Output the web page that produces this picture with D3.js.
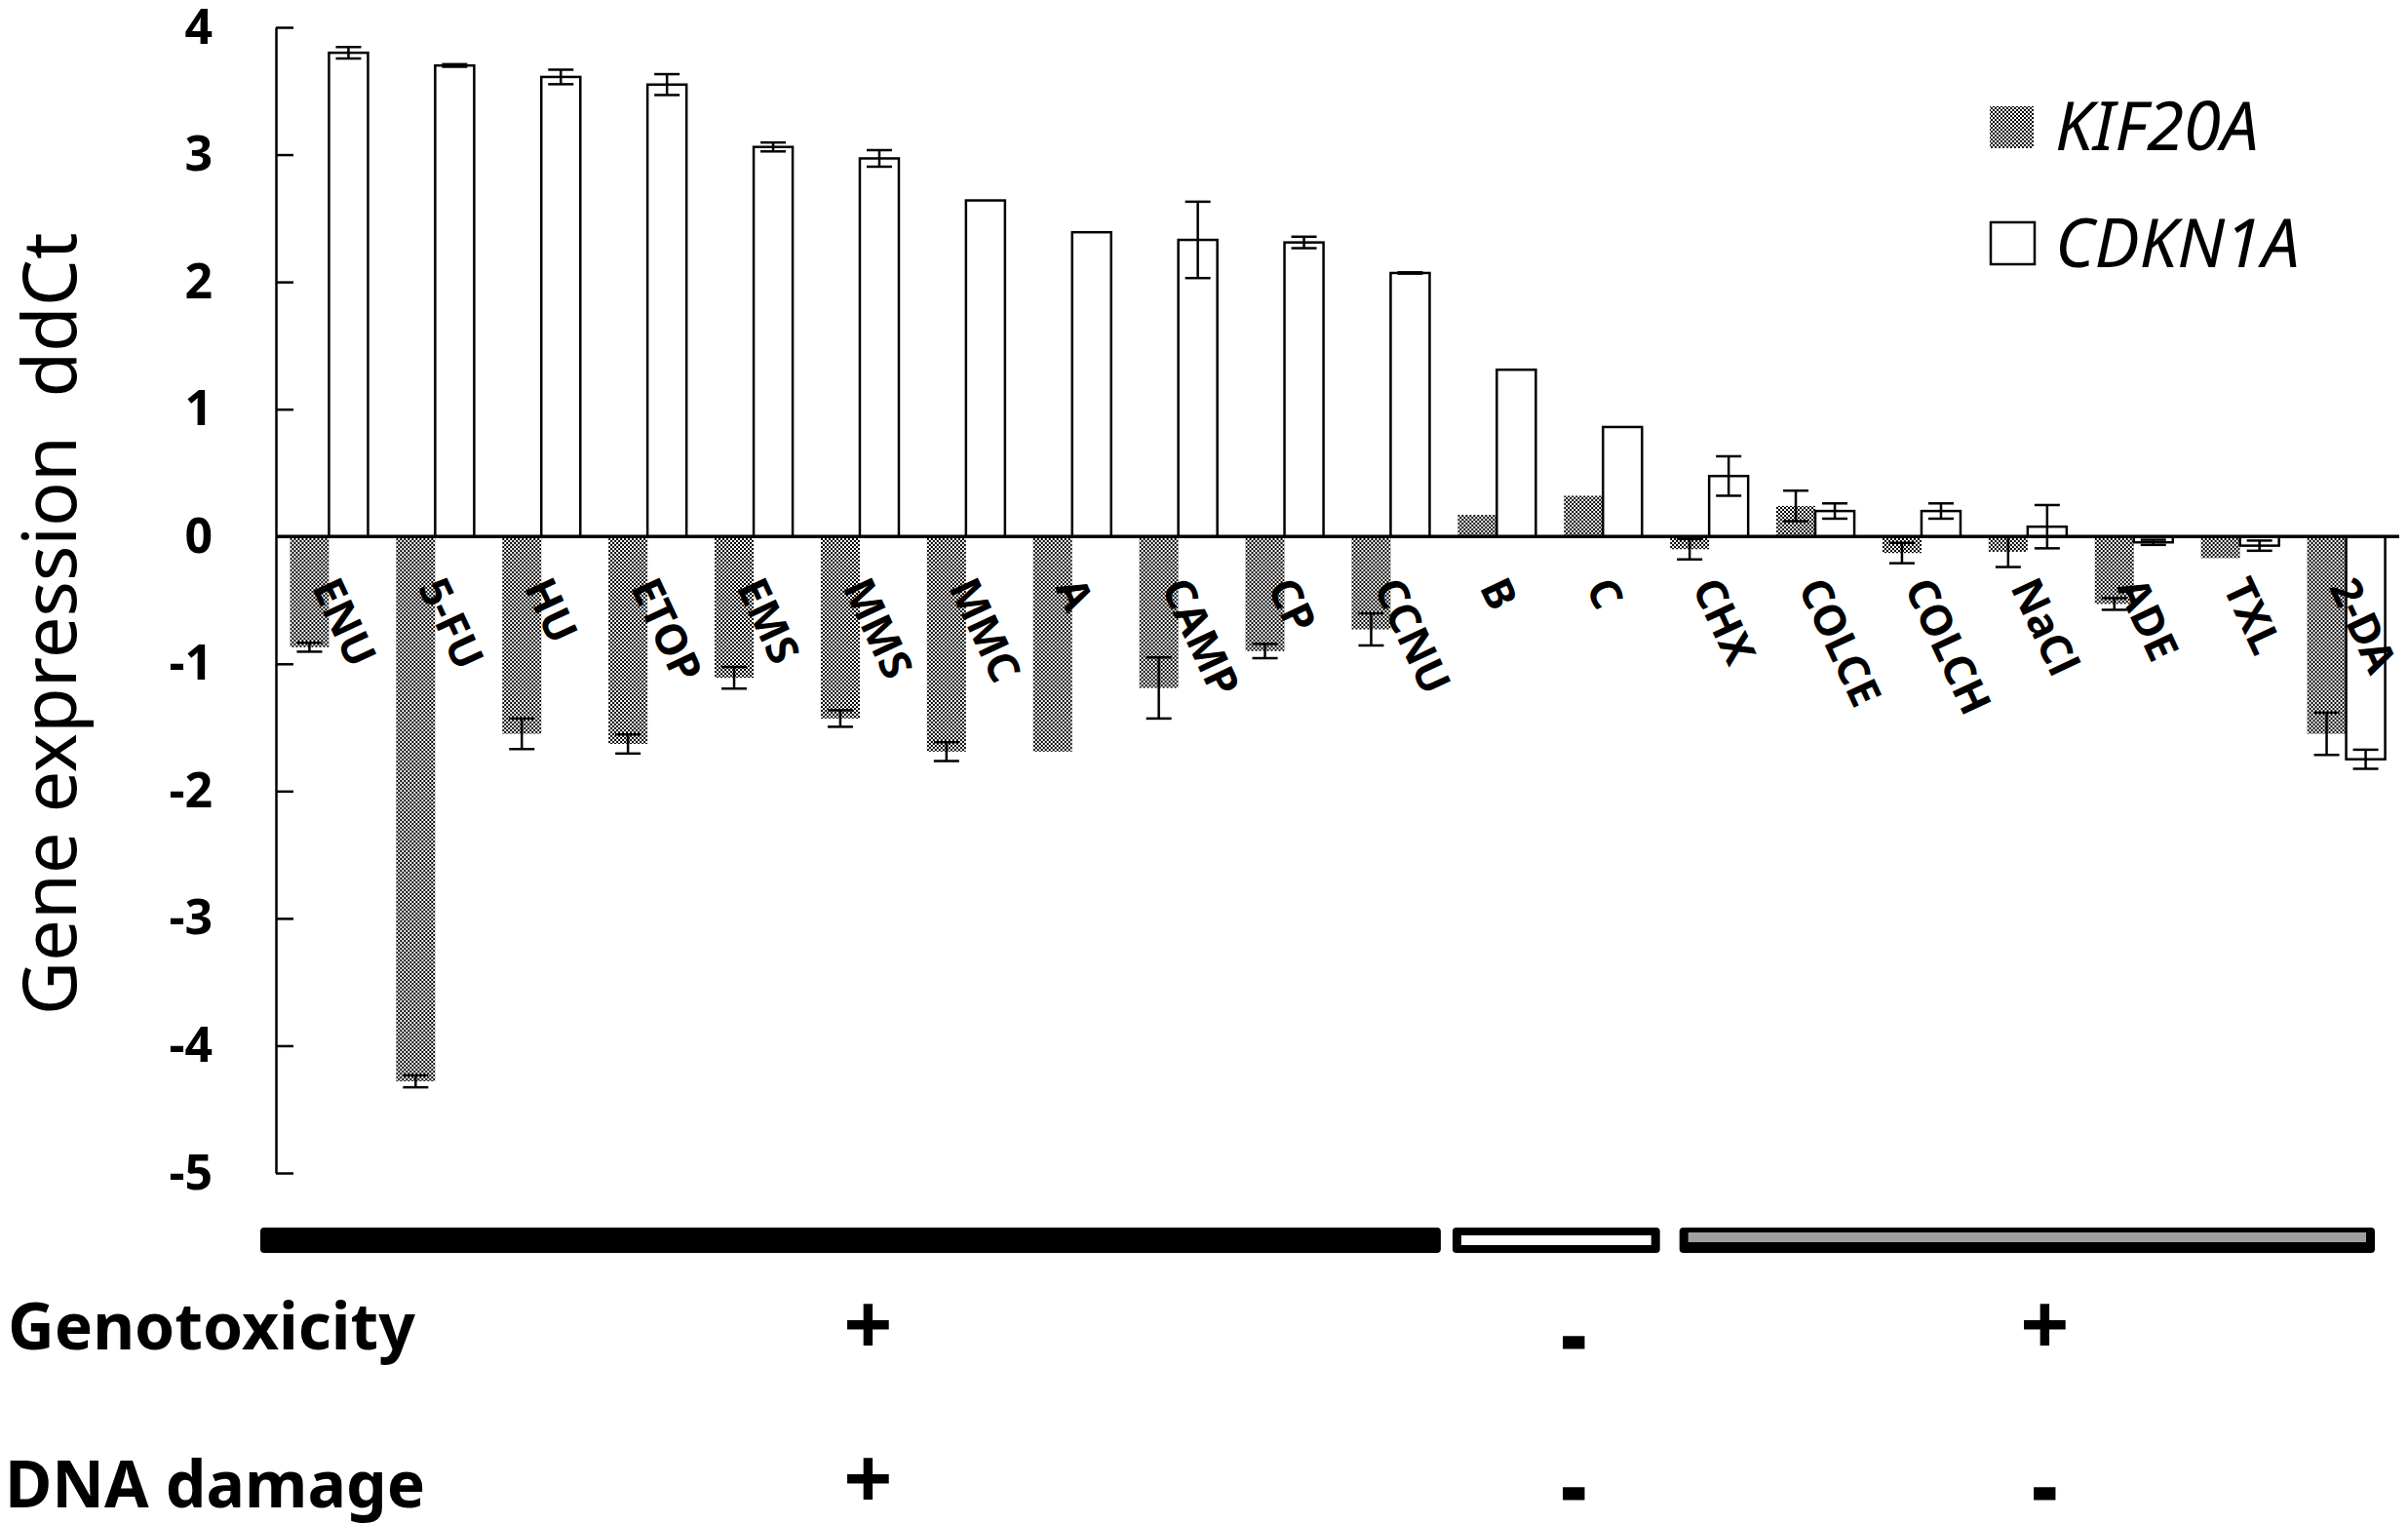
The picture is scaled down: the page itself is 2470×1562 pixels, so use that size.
<!DOCTYPE html>
<html>
<head>
<meta charset="utf-8">
<script src="https://cdn.jsdelivr.net/npm/d3@7"></script>
<style>
  body { margin: 0; background: #fff; }
  svg { display: block; }
</style>
</head>
<body>
<script>
// chart data
const categories = ["ENU", "5-FU", "HU", "ETOP", "EMS", "MMS", "MMC", "A", "CAMP", "CP", "CCNU",
                    "B", "C", "CHX", "COLCE", "COLCH", "NaCl", "ADE", "TXL", "2-DA"];
const seriesNames = ["KIF20A", "CDKN1A"];
const kif20a    = [-0.87, -4.28, -1.55, -1.63, -1.11, -1.43, -1.69, -1.69, -1.19, -0.90, -0.73,
                    0.17, 0.32, -0.10, 0.24, -0.13, -0.12, -0.53, -0.17, -1.55];
const kif20aErr = [0.035, 0.047, 0.12, 0.075, 0.085, 0.065, 0.074, 0, 0.24, 0.056, 0.126,
                   0, 0, 0.08, 0.12, 0.08, 0.12, 0.046, 0, 0.166];
const cdkn1a    = [3.80, 3.70, 3.61, 3.55, 3.06, 2.97, 2.64, 2.39, 2.33, 2.31, 2.07,
                   1.31, 0.86, 0.475, 0.20, 0.20, 0.077, -0.046, -0.072, -1.75];
const cdkn1aErr = [0.045, 0.01, 0.057, 0.082, 0.035, 0.065, 0, 0, 0.30, 0.045, 0.005,
                   0, 0, 0.155, 0.06, 0.06, 0.17, 0.02, 0.04, 0.075];
const yTicks = [-5, -4, -3, -2, -1, 0, 1, 2, 3, 4];

// the three treatment groups under the chart
const groupFirst = ["ENU", "B", "CHX"];
const groupLast  = ["CCNU", "C", "2-DA"];
const genotoxicity = ["+", "-", "+"];
const dnaDamage    = ["+", "-", "-"];

const W = 2470, H = 1562;
const svg = d3.select("body").append("svg")
    .attr("width", W).attr("height", H)
    .style("font-family", "'Noto Sans', 'DejaVu Sans', sans-serif");

// dithered grey fill like the original
const defs = svg.append("defs");
const pat = defs.append("pattern")
    .attr("id", "dither").attr("patternUnits", "userSpaceOnUse")
    .attr("width", 4).attr("height", 4);
pat.append("rect").attr("width", 4).attr("height", 4).attr("fill", "#fff");
pat.append("rect").attr("width", 2).attr("height", 2).attr("fill", "#000");
pat.append("rect").attr("x", 2).attr("y", 2).attr("width", 2).attr("height", 2).attr("fill", "#000");

const plotLeft = 283, plotRight = 2461;

const x = d3.scaleBand()
    .domain(categories)
    .range([plotLeft, plotRight])
    .paddingInner(0.265)
    .paddingOuter(0.1325);

const xs = d3.scaleBand()
    .domain(seriesNames)
    .range([0, x.bandwidth()]);

const y = d3.scaleLinear()
    .domain([-5, 4])
    .range([1203, 28]);

const rows = categories.map((c, i) => ({
    cat: c,
    vals: [
        { s: "KIF20A", v: kif20a[i], e: kif20aErr[i] },
        { s: "CDKN1A", v: cdkn1a[i], e: cdkn1aErr[i] }
    ]
}));

// bars
const grp = svg.append("g").selectAll("g").data(rows).enter()
    .append("g")
    .attr("transform", d => "translate(" + x(d.cat) + ",0)");

grp.selectAll("rect").data(d => d.vals).enter()
    .append("rect")
    .attr("x", d => xs(d.s))
    .attr("width", xs.bandwidth())
    .attr("y", d => y(Math.max(0, d.v)))
    .attr("height", d => Math.abs(y(d.v) - y(0)))
    .attr("fill", d => d.s == "KIF20A" ? "url(#dither)" : "#fff")
    .attr("stroke", d => d.s == "KIF20A" ? "none" : "#000")
    .attr("stroke-width", 2.5);

// error bars
const capW = 13;
const errs = grp.selectAll("g.err").data(d => d.vals.filter(v => v.e > 0)).enter()
    .append("g").attr("class", "err")
    .attr("stroke", "#000").attr("stroke-width", 2.5);
errs.append("line")
    .attr("x1", d => xs(d.s) + xs.bandwidth() / 2)
    .attr("x2", d => xs(d.s) + xs.bandwidth() / 2)
    .attr("y1", d => y(d.v + d.e))
    .attr("y2", d => y(d.v - d.e));
errs.append("line")
    .attr("x1", d => xs(d.s) + xs.bandwidth() / 2 - capW)
    .attr("x2", d => xs(d.s) + xs.bandwidth() / 2 + capW)
    .attr("y1", d => y(d.v + d.e))
    .attr("y2", d => y(d.v + d.e));
errs.append("line")
    .attr("x1", d => xs(d.s) + xs.bandwidth() / 2 - capW)
    .attr("x2", d => xs(d.s) + xs.bandwidth() / 2 + capW)
    .attr("y1", d => y(d.v - d.e))
    .attr("y2", d => y(d.v - d.e));

// zero line
svg.append("line")
    .attr("x1", plotLeft).attr("x2", plotRight)
    .attr("y1", y(0)).attr("y2", y(0))
    .attr("stroke", "#000").attr("stroke-width", 3.5);

// y axis, ticks pointing inward
const yAxis = d3.axisLeft(y)
    .tickValues(yTicks)
    .tickFormat(d => String(d))
    .tickSizeInner(-18)
    .tickSizeOuter(0)
    .tickPadding(65);

const yg = svg.append("g")
    .attr("transform", "translate(" + plotLeft + ",0)")
    .call(yAxis);
yg.select(".domain").attr("stroke-width", 2.5);
yg.selectAll(".tick line").attr("stroke-width", 2.5);
yg.selectAll(".tick text")
    .attr("font-size", 50)
    .attr("font-weight", "bold")
    .attr("font-family", "'Noto Sans', sans-serif")
    .attr("fill", "#000");

// y label
svg.append("text")
    .attr("transform", "translate(78,640) rotate(-90)")
    .attr("text-anchor", "middle")
    .attr("font-size", 76)
    .attr("fill", "#000")
    .attr("xml:space", "preserve")
    .text("Gene expression  ddCt");

// category labels, slanted
svg.append("g").selectAll("text").data(categories).enter()
    .append("text")
    .attr("transform", d => "translate(" + (x(d) + x.bandwidth() / 2 - 18) + "," + (y(0) + 52) + ") rotate(65)")
    .attr("font-size", 44)
    .attr("font-weight", "bold")
    .attr("fill", "#000")
    .text(d => d);

// legend
const legend = svg.append("g");
legend.append("rect")
    .attr("x", 2041).attr("y", 109).attr("width", 45).attr("height", 43)
    .attr("fill", "url(#dither)");
legend.append("rect")
    .attr("x", 2042).attr("y", 228).attr("width", 45).attr("height", 43)
    .attr("fill", "#fff").attr("stroke", "#000").attr("stroke-width", 2.5);
legend.selectAll("text").data(seriesNames).enter()
    .append("text")
    .attr("x", 2108)
    .attr("y", (d, i) => 154 + i * 120)
    .attr("font-size", 69)
    .attr("font-style", "italic")
    .attr("fill", "#000")
    .text(d => d);

// group bars beneath the axis
const bandL = c => x(c) - x.step() * x.paddingOuter();
const bandR = c => x(c) + x.bandwidth() + x.step() * x.paddingOuter();
const barInset = [[-16, -3], [9, 4], [24, -25]];
const groupBars = groupFirst.map((f, i) => ({
    x0: bandL(f) + barInset[i][0],
    x1: bandR(groupLast[i]) + barInset[i][1],
    i: i
}));

const gb = svg.append("g");
gb.selectAll("rect.outer").data(groupBars).enter()
    .append("rect").attr("class", "outer")
    .attr("x", d => d.x0).attr("y", 1259)
    .attr("width", d => d.x1 - d.x0).attr("height", 26)
    .attr("rx", 4)
    .attr("fill", "#000");
gb.selectAll("rect.inner").data(groupBars.filter(d => d.i > 0)).enter()
    .append("rect").attr("class", "inner")
    .attr("x", d => d.x0 + 9).attr("y", d => d.i == 1 ? 1267 : 1264)
    .attr("width", d => d.x1 - d.x0 - 18).attr("height", 10)
    .attr("fill", d => d.i == 1 ? "#fff" : "#a0a0a0");

// genotoxicity / DNA damage rows
svg.append("text").attr("x", 8).attr("y", 1384)
    .attr("font-size", 66).attr("font-weight", "bold").attr("fill", "#000")
    .text("Genotoxicity");
svg.append("text").attr("x", 5).attr("y", 1546)
    .attr("font-size", 66).attr("font-weight", "bold").attr("fill", "#000")
    .text("DNA damage");

function signRow(signs, baseY, plusY) {
    svg.append("g").selectAll("text").data(signs).enter()
        .append("text")
        .attr("x", (d, i) => (groupBars[i].x0 + groupBars[i].x1) / 2 + 18)
        .attr("y", d => d == "+" ? plusY : baseY)
        .attr("text-anchor", "middle")
        .attr("font-size", d => d == "+" ? 88 : 66)
        .attr("font-weight", "bold")
        .attr("fill", "#000")
        .attr("stroke", d => d == "-" ? "#000" : "none")
        .attr("stroke-width", 5)
        .text(d => d);
}
signRow(genotoxicity, 1395, 1390);
signRow(dnaDamage, 1550, 1548);
</script>
</body>
</html>
